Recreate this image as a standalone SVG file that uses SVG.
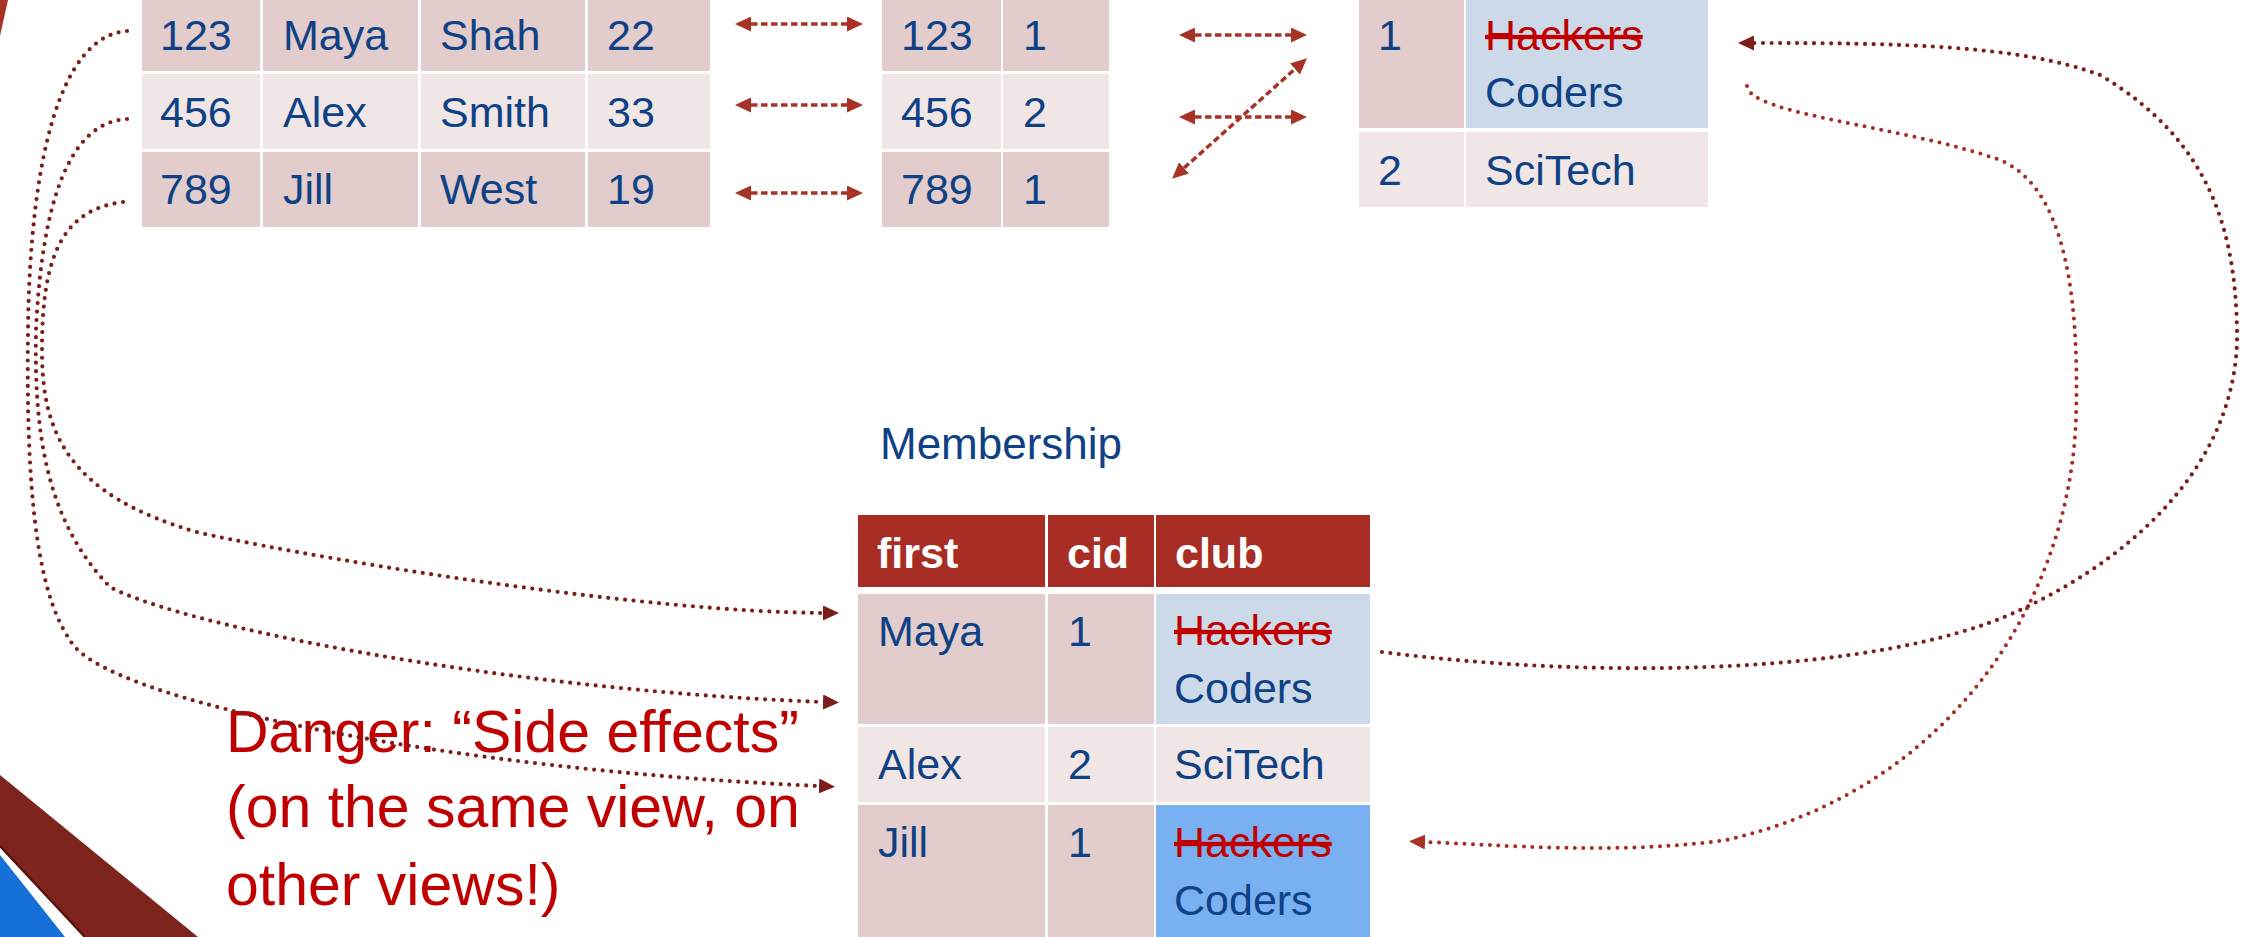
<svg xmlns="http://www.w3.org/2000/svg" width="2254" height="937" viewBox="0 0 2254 937">
<style>
text{font-family:"Liberation Sans",Arial,sans-serif;}
.t{font-size:43px;fill:#0F4185;}
.h{font-size:43px;fill:#FFFFFF;font-weight:bold;}
.x{font-size:43px;fill:#C00000;text-decoration:line-through;}
.big{font-size:59px;fill:#C00000;}
.ttl{font-size:44px;fill:#0F4185;}
.d{fill:#E2CCCC;}
.l{fill:#F0E6E6;}
.b{fill:#CCD9E8;}
.bb{fill:#79B0F2;}
.hd{fill:#A82E25;}
.dash{fill:none;stroke:#A93226;stroke-width:3.5;stroke-dasharray:6.5 3.5;}
.dot{fill:none;stroke:#7B1E1A;stroke-width:4.2;stroke-dasharray:0 8.5;stroke-linecap:round;}
.dotr{fill:none;stroke:#A52A22;stroke-width:4;stroke-dasharray:0 8.5;stroke-linecap:round;}
</style>
<defs>
<marker id="dh" markerUnits="userSpaceOnUse" markerWidth="16" markerHeight="15" viewBox="0 0 16 15" refX="0" refY="7.5" orient="auto-start-reverse"><path d="M0,0 L16,7.5 L0,15 z" fill="#A93226"/></marker>
<marker id="ak" markerUnits="userSpaceOnUse" markerWidth="16" markerHeight="15" viewBox="0 0 16 15" refX="0" refY="7.5" orient="auto"><path d="M0,0 L16,7.5 L0,15 z" fill="#7B1E1A"/></marker>
<marker id="ar" markerUnits="userSpaceOnUse" markerWidth="16" markerHeight="15" viewBox="0 0 16 15" refX="0" refY="7.5" orient="auto"><path d="M0,0 L16,7.5 L0,15 z" fill="#A93226"/></marker>
</defs>
<rect width="2254" height="937" fill="#FFFFFF"/>
<g id="decoration">
<polygon points="0,0 8,0 0,36" fill="#A93226"/>
<polygon points="0,775 198,937 85,937 0,846" fill="#7D241C"/>
<line x1="0" y1="846" x2="85" y2="937" stroke="#55140F" stroke-width="2.5"/>
<polygon points="0,855 65,937 0,937" fill="#1570D8"/>
</g>
<g id="student">
<rect class="d" x="142" y="-4" width="118" height="75"/><rect class="d" x="263" y="-4" width="155" height="75"/><rect class="d" x="421" y="-4" width="164" height="75"/><rect class="d" x="588" y="-4" width="122" height="75"/>
<rect class="l" x="142" y="74" width="118" height="75"/><rect class="l" x="263" y="74" width="155" height="75"/><rect class="l" x="421" y="74" width="164" height="75"/><rect class="l" x="588" y="74" width="122" height="75"/>
<rect class="d" x="142" y="152" width="118" height="75"/><rect class="d" x="263" y="152" width="155" height="75"/><rect class="d" x="421" y="152" width="164" height="75"/><rect class="d" x="588" y="152" width="122" height="75"/>
<text class="t" x="160" y="50">123</text><text class="t" x="283" y="50">Maya</text><text class="t" x="440" y="50">Shah</text><text class="t" x="607" y="50">22</text>
<text class="t" x="160" y="127">456</text><text class="t" x="283" y="127">Alex</text><text class="t" x="440" y="127">Smith</text><text class="t" x="607" y="127">33</text>
<text class="t" x="160" y="204">789</text><text class="t" x="283" y="204">Jill</text><text class="t" x="440" y="204">West</text><text class="t" x="607" y="204">19</text>
</g>
<g id="enroll">
<rect class="d" x="882" y="-4" width="119" height="75"/><rect class="d" x="1003" y="-4" width="106" height="75"/>
<rect class="l" x="882" y="74" width="119" height="75"/><rect class="l" x="1003" y="74" width="106" height="75"/>
<rect class="d" x="882" y="152" width="119" height="75"/><rect class="d" x="1003" y="152" width="106" height="75"/>
<text class="t" x="901" y="50">123</text><text class="t" x="1023" y="50">1</text>
<text class="t" x="901" y="127">456</text><text class="t" x="1023" y="127">2</text>
<text class="t" x="901" y="204">789</text><text class="t" x="1023" y="204">1</text>
</g>
<g id="club">
<rect class="d" x="1359" y="-4" width="105" height="132"/><rect class="b" x="1466" y="-4" width="242" height="132"/>
<rect class="l" x="1359" y="132" width="105" height="75"/><rect class="l" x="1466" y="132" width="242" height="75"/>
<text class="t" x="1378" y="50">1</text><text class="x" x="1485" y="50">Hackers</text><text class="t" x="1485" y="107">Coders</text>
<text class="t" x="1378" y="185">2</text><text class="t" x="1485" y="185">SciTech</text>
</g>
<g id="membership">
<text class="ttl" x="880" y="459">Membership</text>
<rect class="hd" x="858" y="515" width="187" height="72"/><rect class="hd" x="1048" y="515" width="106" height="72"/><rect class="hd" x="1156" y="515" width="214" height="72"/>
<rect class="d" x="858" y="594" width="187" height="130"/><rect class="d" x="1048" y="594" width="106" height="130"/><rect class="b" x="1156" y="594" width="214" height="130"/>
<rect class="l" x="858" y="727" width="187" height="75"/><rect class="l" x="1048" y="727" width="106" height="75"/><rect class="l" x="1156" y="727" width="214" height="75"/>
<rect class="d" x="858" y="805" width="187" height="135"/><rect class="d" x="1048" y="805" width="106" height="135"/><rect class="bb" x="1156" y="805" width="214" height="135"/>
<text class="h" x="877" y="568">first</text><text class="h" x="1067" y="568">cid</text><text class="h" x="1175" y="568">club</text>
<text class="t" x="878" y="646">Maya</text><text class="t" x="1068" y="646">1</text><text class="x" x="1174" y="645">Hackers</text><text class="t" x="1174" y="703">Coders</text>
<text class="t" x="878" y="779">Alex</text><text class="t" x="1068" y="779">2</text><text class="t" x="1174" y="779">SciTech</text>
<text class="t" x="878" y="857">Jill</text><text class="t" x="1068" y="857">1</text><text class="x" x="1174" y="857">Hackers</text><text class="t" x="1174" y="915">Coders</text>
</g>
<g id="warning">
<text class="big" x="226" y="752">Danger: “Side effects”</text>
<text class="big" x="226" y="827">(on the same view, on</text>
<text class="big" x="226" y="905">other views!)</text>
</g>
<g id="connectors">
<path class="dash" d="M751,24 H847" marker-start="url(#dh)" marker-end="url(#dh)"/>
<path class="dash" d="M751,105 H847" marker-start="url(#dh)" marker-end="url(#dh)"/>
<path class="dash" d="M751,193 H847" marker-start="url(#dh)" marker-end="url(#dh)"/>
<path class="dash" d="M1195,35 H1291" marker-start="url(#dh)" marker-end="url(#dh)"/>
<path class="dash" d="M1195,117 H1291" marker-start="url(#dh)" marker-end="url(#dh)"/>
<path class="dash" d="M1184,168 L1295,69" marker-start="url(#dh)" marker-end="url(#dh)"/>
<path class="dot" d="M127,31 C60,36 30,160 28,330 C26,480 35,590 70,640 C100,700 450,770 819,786" marker-end="url(#ak)"/>
<path class="dot" d="M127,119 C70,122 42,200 36,330 C34,430 45,520 110,587 C180,625 500,690 823,702" marker-end="url(#ak)"/>
<path class="dot" d="M123,202 C60,210 42,260 42,350 C42,430 65,495 200,533 C350,565 650,612 823,613" marker-end="url(#ak)"/>
<path class="dot" d="M1382,652 C1600,680 1880,675 2018,611 C2150,550 2240,450 2237,329 C2235,230 2210,140 2100,75 C2020,45 1900,43 1754,43" marker-end="url(#ak)"/>
<path class="dotr" d="M1747,86 C1750,115 1900,125 2000,160 C2060,185 2080,280 2076,418 C2070,600 1950,790 1726,840 C1620,855 1500,845 1425,842" marker-end="url(#ar)"/>
</g>
</svg>
